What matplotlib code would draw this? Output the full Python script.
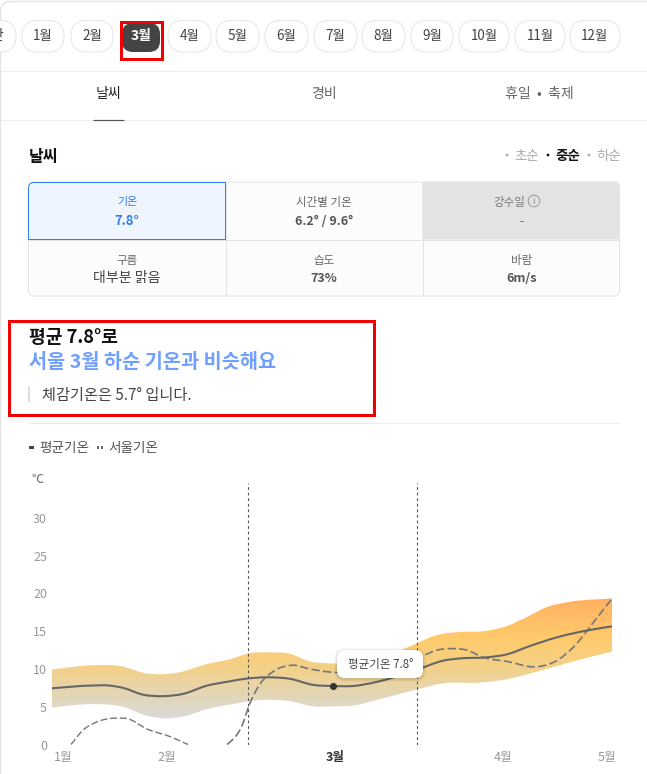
import numpy as np
import matplotlib
matplotlib.use("Agg")
import matplotlib.pyplot as plt
from matplotlib.path import Path
from matplotlib.patches import PathPatch, FancyBboxPatch, Rectangle, Circle
from matplotlib.colors import LinearSegmentedColormap

plt.rcParams['font.family'] = ['Noto Sans CJK KR', 'DejaVu Sans']

# ---- data (timeline position along the chart, temperature in deg C)
mean_x = [0,38,58,71,91,111,131,155,175,196,215,238,261,281,301,325,365,391,408,435,455,478,505,535,560]
mean_v = [7.45,7.8,7.8,7.5,6.6,6.4,6.7,7.8,8.3,8.75,8.9,8.7,7.9,7.75,7.75,8.3,9.9,11.1,11.4,11.55,11.95,13.05,14.2,15.1,15.65]
upper_x = [0,41,68,95,125,155,178,198,215,238,258,278,300,330,358,385,408,431,455,475,495,518,560]
upper_v = [9.95,10.5,10.4,9.4,9.5,10.65,11.3,12.1,12.2,12.0,11,10.75,10.8,11.6,13.0,14.5,14.9,15,15.7,16.9,18.2,18.9,19.35]
lower_x = [0,41,71,95,115,131,158,181,201,235,265,278,301,325,365,391,428,455,485,521,560]
lower_v = [4.9,5.35,5.0,3.8,3.45,3.7,4.8,5.35,5.8,5.8,5,5.05,5.15,5.9,7.3,8.1,8.2,8.65,9.65,11,12.3]
seoul1_x = [19,31,45,65,76,95,118,136]
seoul1_v = [0,1.9,3,3.5,3.4,2.05,1.05,0]
seoul2_x = [175,181,186,191,196,208,221,241,258,278,301,328,365,371,385,401,415,431,455,485,501,525,538,559]
seoul2_v = [0,0.7,1.5,2.8,4.8,8,9.65,10.5,10,9.6,9.55,9.9,11.4,11.75,12.5,12.7,12.5,11.55,11,10.3,10.85,13.4,15.6,19.15]
month_ticks = [11,115,283,451,555]
month_labels = ['1월','2월','3월','4월','5월']
y_ticks = [0,5,10,15,20,25,30]
period_edges = [196,365]
current_x, current_v = 281, 7.75
tabs = ['날씨','경비','휴일  •  축제']
pills = ['1월','2월','3월','4월','5월','6월','7월','8월','9월','10월','11월','12월']
cells = [('기온','7.8°'),('시간별 기온','6.2° / 9.6°'),('강수일','-'),
         ('구름','대부분 맑음'),('습도','73%'),('바람','6m/s')]

W, H = 647, 774
fig = plt.figure(figsize=(W/100, H/100), dpi=100, facecolor='white')
PX = 0.72  # points per pixel at 100 dpi

def overlay(z):
    a = fig.add_axes([0,0,1,1], zorder=z)
    a.set_xlim(0,W); a.set_ylim(H,0); a.axis('off'); a.patch.set_alpha(0)
    return a
ui = overlay(0)
top = overlay(3)

def T(a,x,y,s,px=13,c='#444444',ha='center',w='normal',va='center',z=6):
    return a.text(x,y+1.3,s,fontsize=px*PX,color=c,ha=ha,va=va,fontweight=w,zorder=z)

def rbox(a,x0,y0,x1,y1,r,fc='none',ec='none',lw=1,z=2):
    p = FancyBboxPatch((x0,y0),x1-x0,y1-y0,boxstyle=f'round,pad=0,rounding_size={r}',
                       fc=fc,ec=ec,lw=lw*PX,zorder=z)
    a.add_patch(p); return p

def line(a,x0,y0,x1,y1,c='#eeeeee',lw=1,z=2):
    a.plot([x0,x1],[y0,y1],color=c,lw=lw*PX,zorder=z,solid_capstyle='butt')

# page frame
rbox(ui,0.5,1.5,W+30,H+30,10,fc='white',ec='#e4e4e4',lw=1.5,z=1)

# month pills
rbox(ui,-40,20.5,16,52,15.5,fc='white',ec='#e6e6e6')
T(ui,-3,35,'간',14,'#444444')
spans = [(22,64),(71,113),(122,160),(168,211),(216,259),(265,308),(314,357),
         (362,405),(411,453),(459,509),(515,565),(570,620)]
for lab,(a0,a1) in zip(pills,spans):
    if lab == '3월':
        rbox(ui,a0,23,a1,52,11,fc='#444444')
        T(ui,(a0+a1)/2,35,lab,14,'white',w='bold')
    else:
        rbox(ui,a0,20.5,a1,52,15.5,fc='white',ec='#e6e6e6')
        T(ui,(a0+a1)/2,35,lab,13.5,'#444444')
ui.add_patch(Rectangle((120.5,21.5),41,37.5,fc='none',ec='#f00000',lw=3*PX,zorder=5))

# tabs
line(ui,1,70.5,W,70.5,'#eeeeee')
line(ui,1,119.5,W,119.5,'#eeeeee')
for xc,lab,col in zip([109,324,539],tabs,['#222222','#666666','#666666']):
    T(ui,xc,93,lab,14,col)
line(ui,93,119.5,124,119.5,'#555555',1.2,z=3)

# section heading
T(ui,29,156,'날씨',16,'#111111',ha='left',w='bold')
for xd,xt,lab,col,wt in [(507,514,'초순','#aaaaaa','normal'),(548,555,'중순','#111111','bold'),(589,596,'하순','#aaaaaa','normal')]:
    ui.add_patch(Circle((xd,155),1.4,fc=col,ec='none',zorder=3))
    T(ui,xt,155,lab,13.5,col,ha='left',w=wt)

# info table
rbox(ui,28.5,182,619.5,296,6,fc='#fcfcfc',ec='#e4e4e4',z=2)
r3path = Path([(422.5,182),(613.5,182),(619.5,182),(619.5,188),(619.5,239.5),(422.5,239.5),(422.5,182)],
              [Path.MOVETO,Path.LINETO,Path.CURVE3,Path.CURVE3,Path.LINETO,Path.LINETO,Path.CLOSEPOLY])
ui.add_patch(PathPatch(r3path,fc='#e3e3e3',ec='none',zorder=3))
line(ui,28.5,239.5,619.5,239.5,'#e4e4e4',z=3)
line(ui,225.5,182,225.5,296,'#e4e4e4',z=3)
line(ui,422.5,182,422.5,296,'#e4e4e4',z=3)
sel = Path([(225.5,182.5),(34,182.5),(28.5,182.5),(28.5,188),(28.5,239.5),(225.5,239.5),(225.5,182.5)],
           [Path.MOVETO,Path.LINETO,Path.CURVE3,Path.CURVE3,Path.LINETO,Path.LINETO,Path.CLOSEPOLY])
ui.add_patch(PathPatch(sel,fc='#eef5ff',ec='#2f7ff0',lw=1*PX,zorder=4))
centers = [127,324,522]
for i,(h,v) in enumerate(cells):
    xc = centers[i%3]
    y1,y2 = (201,220) if i<3 else (259,277)
    if i==0:
        T(ui,xc,y1,h,11,'#2f7ff0')
        T(ui,xc,y2,v,13,'#2f7ff0',w='bold')
    elif i==2:
        T(ui,509,y1,h,11.5,'#777777')
        T(ui,xc,y2,v,12,'#666666')
        ui.add_patch(Circle((534,y1),5.8,fc='none',ec='#999999',lw=0.7,zorder=5))
        T(ui,534,y1-1,'i',9,'#888888')
    else:
        T(ui,xc,y1,h,11.5,'#666666')
        if i==3: T(ui,xc,y2,v,14,'#444444')
        else: T(ui,xc,y2,v,12.5,'#555555',w='bold')

# summary box
ui.add_patch(Rectangle((8.5,320.5),365,94.5,fc='none',ec='#f00000',lw=3*PX,zorder=5))
T(ui,29,336,'평균 7.8°로',18.2,'#111111',ha='left',w='bold')
T(ui,29,361,'서울 3월 하순 기온과 비슷해요',19.7,'#6fa0ff',ha='left',w='bold')
ui.add_patch(Rectangle((28,386),2,16,fc='#dddddd',ec='none',zorder=3))
T(ui,42,394,'체감기온은 5.7° 입니다.',15.2,'#444444',ha='left')
line(ui,28,422.5,620,422.5,'#eeeeee')

# legend
ui.add_patch(Rectangle((29,445.5),5,3,fc='#444444',ec='none',zorder=3))
T(ui,39,447,'평균기온',13.6,'#555555',ha='left')
ui.add_patch(Rectangle((97,445.5),2.2,3,fc='#666666',ec='none',zorder=3))
ui.add_patch(Rectangle((100.5,445.5),2.2,3,fc='#666666',ec='none',zorder=3))
T(ui,108,447,'서울기온',13.6,'#555555',ha='left')

# chart
ax = fig.add_axes([52/W, 1-744.5/H, 560/W, 264.25/H], zorder=1)
ax.patch.set_alpha(0)
ax.set_xlim(0,560); ax.set_ylim(0,35)
for s in ax.spines.values():
    s.set_visible(False)

def smooth(xs,ys):
    """Bezier path through the read points."""
    xs=np.asarray(xs,float); ys=np.asarray(ys,float)
    m=np.gradient(ys,xs)
    verts=[(xs[0],ys[0])]; codes=[Path.MOVETO]
    for i in range(len(xs)-1):
        h=xs[i+1]-xs[i]
        verts+=[(xs[i]+h/3,ys[i]+m[i]*h/3),(xs[i+1]-h/3,ys[i+1]-m[i+1]*h/3),(xs[i+1],ys[i+1])]
        codes+=[Path.CURVE4]*3
    return verts,codes

uv,uc = smooth(upper_x,upper_v)
lv,lc = smooth(lower_x[::-1],lower_v[::-1])
band = Path(uv+lv+[uv[0]], uc+[Path.LINETO]+lc[1:]+[Path.CLOSEPOLY])
cmap = LinearSegmentedColormap.from_list('band',[
    (0,'#dcdcdc'),(4/19.6,'#dcdad4'),(7/19.6,'#e5d6b2'),(10/19.6,'#f3d18a'),
    (14/19.6,'#ffcb6c'),(1,'#ffb061')])
im = ax.imshow(np.linspace(1,0,256).reshape(-1,1),extent=(0,560,0,19.6),aspect='auto',cmap=cmap,vmin=0,vmax=1,zorder=1)
im.set_clip_path(PathPatch(band,transform=ax.transData))
ax.set_xlim(0,560); ax.set_ylim(0,35)

def curve(xs,ys,**kw):
    v,c = smooth(xs,ys)
    ax.add_patch(PathPatch(Path(v,c),fc='none',**kw))
curve(mean_x,mean_v,ec='#666666',lw=1.5,zorder=3)
curve(seoul1_x,seoul1_v,ec='#777777',lw=1.0,ls=(0,(5,2)),zorder=2)
curve(seoul2_x,seoul2_v,ec='#777777',lw=1.2,ls=(0,(5,2)),zorder=2)
ax.vlines(period_edges,0,34.7,color='#555555',lw=0.8,ls=(0,(2.5,2.5)),zorder=4)
ax.scatter([current_x],[current_v],s=26,color='#333333',zorder=5,linewidths=0)

ax.set_yticks(y_ticks); ax.set_xticks(month_ticks,month_labels)
ax.tick_params(axis='both',length=0,labelsize=12.5*PX,labelcolor='#999999')
ax.tick_params(axis='y',pad=3.5)
ax.tick_params(axis='x',pad=5)
for lab,text in zip(ax.get_xticklabels(),month_labels):
    if text=='3월':
        lab.set_color('#333333'); lab.set_fontweight('bold')
T(ui,37,478,'℃',12,'#666666')

# tooltip
for off,al in [(3,0.03),(2,0.04),(1,0.05)]:
    p=rbox(top,337-off,650-off+1,423+off,678+off+1,8+off,fc='#000000',z=1); p.set_alpha(al)
rbox(top,337,650,423,678,8,fc='white',z=2)
T(top,380.5,663,'평균기온 7.8°',11.5,'#444444',z=3)

fig.savefig('out.png',dpi=100)
